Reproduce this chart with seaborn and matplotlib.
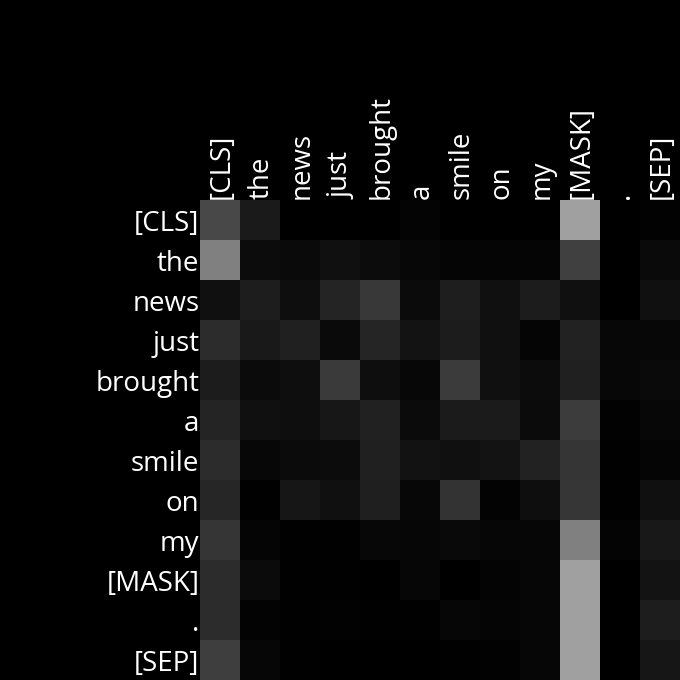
import numpy as np
import pandas as pd
import matplotlib
matplotlib.use("Agg")
import matplotlib.pyplot as plt
import matplotlib.transforms as mtransforms
import seaborn as sns

# ---- data ----
tokens = ["[CLS]", "the", "news", "just", "brought", "a", "smile", "on", "my", "[MASK]", ".", "[SEP]"]

# attention weights (grey level / 255)
row_cls     = [72, 26, 0, 0, 0, 4, 0, 0, 0, 160, 0, 2]
row_the     = [128, 12, 10, 16, 12, 7, 5, 5, 5, 64, 0, 10]
row_news    = [16, 29, 14, 36, 56, 11, 30, 16, 28, 16, 0, 16]
row_just    = [44, 25, 32, 10, 37, 19, 28, 16, 5, 34, 7, 7]
row_brought = [28, 11, 14, 58, 14, 7, 59, 16, 12, 32, 7, 10]
row_a       = [36, 16, 14, 23, 33, 11, 27, 27, 11, 60, 2, 7]
row_smile   = [44, 7, 11, 12, 32, 18, 16, 19, 34, 53, 1, 5]
row_on      = [38, 1, 22, 16, 31, 7, 51, 3, 14, 54, 1, 16]
row_my      = [53, 5, 1, 1, 7, 6, 9, 6, 6, 128, 4, 24]
row_mask    = [44, 11, 1, 1, 0, 6, 0, 4, 6, 160, 0, 19]
row_dot     = [44, 3, 1, 2, 1, 1, 6, 5, 6, 160, 0, 29]
row_sep     = [62, 6, 1, 0, 0, 0, 1, 2, 6, 160, 0, 22]

rows = [row_cls, row_the, row_news, row_just, row_brought, row_a,
        row_smile, row_on, row_my, row_mask, row_dot, row_sep]
df = pd.DataFrame(np.array(rows) / 255.0, index=tokens, columns=tokens)

# ---- plot ----
plt.rcParams['font.family'] = ['Open Sans', 'DejaVu Sans']
fig = plt.figure(figsize=(6.8, 6.8), dpi=100, facecolor="black")
ax = fig.add_axes([200/680, 0, 480/680, 480/680])
sns.heatmap(df, ax=ax, cmap="gray", vmin=0, vmax=1, cbar=False, square=False)

ax.xaxis.tick_top()
ax.set_xticklabels(tokens, rotation=90, color="white", fontsize=20)
ax.set_yticklabels(tokens, rotation=0, color="white", fontsize=20)
ax.tick_params(length=0, pad=0.5)
ax.set_xlabel("")
ax.set_ylabel("")

# nudge labels a little so they sit in the middle of the cells
yshift = mtransforms.ScaledTranslation(0, -4/100, fig.dpi_scale_trans)
for lab in ax.get_yticklabels():
    lab.set_transform(lab.get_transform() + yshift)
xshift = mtransforms.ScaledTranslation(2/100, 0, fig.dpi_scale_trans)
for lab in ax.get_xticklabels():
    lab.set_transform(lab.get_transform() + xshift)

fig.savefig("out.png", dpi=100, facecolor="black")
